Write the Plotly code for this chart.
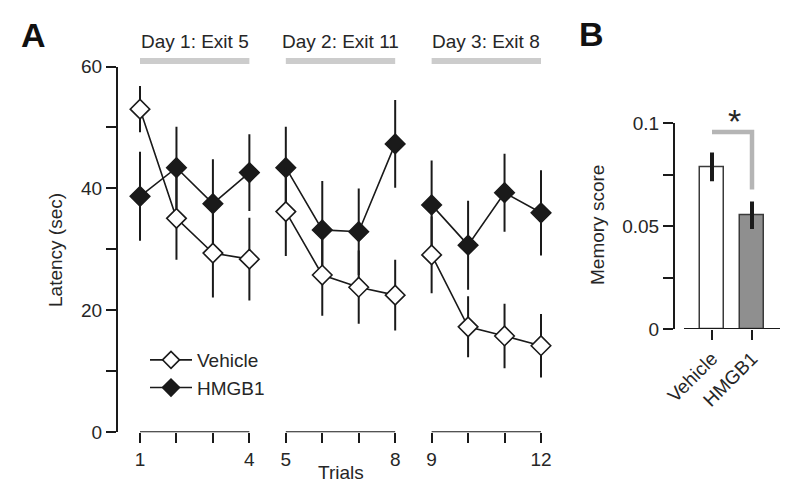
import plotly.graph_objects as go

# ---------------- data ----------------
trials = [1, 2, 3, 4, 5, 6, 7, 8, 9, 10, 11, 12]
trial_tick_labels = ["1", "", "", "4", "5", "", "", "8", "9", "", "", "12"]
vehicle_mean = [53.0, 35.1, 29.4, 28.4, 36.2, 25.8, 23.8, 22.5, 29.1, 17.3, 15.8, 14.2]
vehicle_sem = [3.8, 6.8, 7.3, 6.8, 7.3, 6.7, 6.0, 5.8, 6.3, 5.0, 5.3, 5.2]
hmgb1_mean = [38.7, 43.4, 37.5, 42.6, 43.4, 33.2, 32.9, 47.3, 37.3, 30.7, 39.3, 36.0]
hmgb1_sem = [7.3, 6.7, 7.3, 6.3, 6.7, 8.0, 7.1, 7.2, 7.3, 7.3, 6.4, 7.0]

day_labels = ["Day 1: Exit 5", "Day 2: Exit 11", "Day 3: Exit 8"]
day_first_trial = [1, 5, 9]
day_last_trial = [4, 8, 12]

latency_ticks = [0, 10, 20, 30, 40, 50, 60]
latency_tick_labels = ["0", "", "20", "", "40", "", "60"]

groups = ["Vehicle", "HMGB1"]
memory_mean = [0.0788, 0.0553]
memory_sem = [0.0070, 0.0067]
memory_ticks = [0, 0.025, 0.05, 0.075, 0.1]
memory_tick_labels = ["0", "", "0.05", "", "0.1"]

# ---------------- helpers ----------------
# the page body has an 8px margin, so the figure is 792x492 and starts at (8, 8)
OFF = 8
W, H = 800 - OFF, 500 - OFF
def px(x):
    return (x - OFF) / W
def py(y):
    return 1 - (y - OFF) / H

FONT = "Liberation Sans, Arial, Helvetica, sans-serif"
TXT = "#262626"
AX = "#1a1a1a"
FS = 19

fig = go.Figure()

series = [
    ("HMGB1", hmgb1_mean, hmgb1_sem, "#1a1a1a"),
    ("Vehicle", vehicle_mean, vehicle_sem, "white"),
]
for name, mean, sem, fill in series:
    for a, b in zip(day_first_trial, day_last_trial):
        idx = [i for i, t in enumerate(trials) if a <= t <= b]
        fig.add_trace(go.Scatter(
            x=[trials[i] for i in idx],
            y=[mean[i] for i in idx],
            error_y=dict(type="data", array=[sem[i] for i in idx], width=0,
                         thickness=2, color=AX),
            mode="lines+markers",
            line=dict(color=AX, width=1.6),
            marker=dict(symbol="diamond", size=15, color=fill,
                        line=dict(color=AX, width=1.6)),
            name=name, legendgroup=name, showlegend=False,
            xaxis="x", yaxis="y",
        ))

# legend entries (Vehicle first, HMGB1 second)
for name, fill in [("Vehicle", "white"), ("HMGB1", "#1a1a1a")]:
    fig.add_trace(go.Scatter(
        x=[None], y=[None], mode="lines+markers",
        line=dict(color=AX, width=1.6),
        marker=dict(symbol="diamond", size=13, color=fill,
                    line=dict(color=AX, width=1.6)),
        name=name, showlegend=True, xaxis="x", yaxis="y",
    ))

# panel B bars
fig.add_trace(go.Bar(
    x=[0, 1], y=memory_mean, width=0.6,
    marker=dict(color=["white", "#8f8f8f"], line=dict(color="#3a3a3a", width=1.5)),
    error_y=dict(type="data", array=memory_sem, width=0, thickness=4, color=AX),
    showlegend=False, xaxis="x2", yaxis="y2",
))

shapes = []
for a, b in zip(day_first_trial, day_last_trial):
    shapes.append(dict(type="line", xref="x", yref="y", x0=a, x1=b, y0=0, y1=0,
                       line=dict(color=AX, width=2)))
    shapes.append(dict(type="line", xref="x", yref="paper", x0=a, x1=b,
                       y0=py(61), y1=py(61), line=dict(color="#cccccc", width=6)))
shapes.append(dict(type="line", xref="x2", yref="y2", x0=-0.7, x1=1.7, y0=0, y1=0,
                   line=dict(color=AX, width=2)))
shapes.append(dict(type="path", xref="x2", yref="y2",
                   path="M 0,0.0958 L 1,0.0958 L 1,0.0678",
                   line=dict(color="#b5b5b5", width=4.5)))

def ann(text, x, y, xref="paper", yref="paper", size=FS, color=TXT, angle=0):
    return dict(text=text, xref=xref, yref=yref, x=x, y=y, xanchor="center",
                yanchor="middle", textangle=angle, showarrow=False,
                font=dict(size=size, color=color))

annotations = []
for lab, a, b in zip(day_labels, day_first_trial, day_last_trial):
    annotations.append(ann(lab, (a + b) / 2, py(41), xref="x"))
annotations += [
    ann("<b>A</b>", px(33.5), py(35), size=34, color="#111"),
    ann("<b>B</b>", px(591), py(34), size=34, color="#111"),
    ann("Trials", 6.5, py(472), xref="x"),
    ann("Latency (sec)", px(55), py(250), angle=-90),
    ann("Memory score", px(597), py(225), angle=-90),
    ann("*", 0.55, py(121), xref="x2", size=34),
]

axis_common = dict(showgrid=False, zeroline=False, ticks="outside", ticklen=10,
                   tickwidth=2, tickcolor=AX, tickfont=dict(size=FS, color=TXT),
                   automargin=False)

fig.update_layout(
    width=W, height=H, autosize=False,
    margin=dict(l=0, r=0, t=0, b=0, pad=0, autoexpand=False),
    paper_bgcolor="white", plot_bgcolor="white",
    font=dict(family=FONT, size=FS, color=TXT),
    xaxis=dict(domain=[px(118), px(560)], range=[0.3964, 12.5213],
               tickmode="array", tickvals=trials, ticktext=trial_tick_labels,
               showline=False, anchor="y", **axis_common),
    yaxis=dict(domain=[py(432.3), py(66.5)], range=[0, 60],
               tickmode="array", tickvals=latency_ticks, ticktext=latency_tick_labels,
               showline=True, linewidth=2, linecolor=AX, anchor="x", **axis_common),
    xaxis2=dict(domain=[px(675), px(780)], range=[-0.925, 1.7],
                tickmode="array", tickvals=[0, 1], ticktext=groups, tickangle=-45,
                showline=False, anchor="y2", **axis_common),
    yaxis2=dict(domain=[py(329), py(123.3)], range=[0, 0.1],
                tickmode="array", tickvals=memory_ticks, ticktext=memory_tick_labels,
                showline=True, linewidth=2, linecolor=AX, anchor="x2", **axis_common),
    legend=dict(x=px(145), y=py(341), xanchor="left", yanchor="top",
                bgcolor="rgba(0,0,0,0)", font=dict(size=FS, color=TXT),
                tracegroupgap=0, itemwidth=42),
    shapes=shapes, annotations=annotations,
    bargap=0,
)

fig.write_html("out.html", config=dict(displayModeBar=False))
